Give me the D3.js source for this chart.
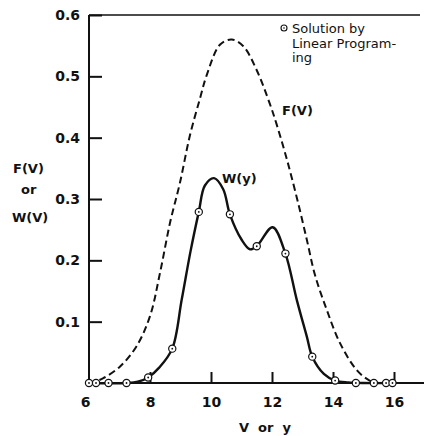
<!DOCTYPE html>
<html>
<head>
<meta charset="utf-8">
<script src="https://cdn.jsdelivr.net/npm/d3@7"></script>
<style>
  body { margin: 0; background: #fff; }
  text { font-family: "DejaVu Sans", sans-serif; fill: #111; }
</style>
</head>
<body>
<div id="container"></div>
<script>
/* CONSTANTS AND GLOBALS */
const width = 424, height = 436;

// F(V) dashed curve
const fV = [6.0, 6.13, 6.47, 7.02, 7.56, 8.0, 8.33, 8.66, 8.98, 9.31, 9.64, 9.86, 10.3, 10.68, 11.06, 11.5, 11.93, 12.15, 12.48, 12.81, 13.14, 13.41, 13.79, 14.23, 14.78, 15.2, 15.5];
const fVal = [0, 0.001, 0.008, 0.027, 0.06, 0.109, 0.18, 0.262, 0.326, 0.404, 0.464, 0.502, 0.552, 0.56, 0.549, 0.51, 0.455, 0.422, 0.366, 0.303, 0.234, 0.176, 0.12, 0.065, 0.021, 0.004, 0];

// W(y) solid curve
const wY = [6.0, 7.23, 7.6, 7.94, 8.3, 8.73, 9.04, 9.33, 9.6, 9.8, 10.1, 10.4, 10.62, 11.0, 11.28, 11.5, 12.02, 12.44, 12.81, 13.14, 13.32, 13.7, 14.07, 14.5, 15.0, 16.0];
const wVal = [0, 0, 0.002, 0.009, 0.025, 0.056, 0.136, 0.215, 0.279, 0.322, 0.334, 0.316, 0.275, 0.234, 0.218, 0.223, 0.254, 0.211, 0.136, 0.076, 0.043, 0.015, 0.004, 0.001, 0, 0];

// solution by linear programming (circled points)
const lpY = [6.0, 6.23, 6.64, 7.23, 7.94, 8.73, 9.6, 10.62, 11.5, 12.44, 13.32, 14.07, 14.75, 15.34, 15.74, 15.95];
const lpVal = [0, 0, 0, 0, 0.009, 0.056, 0.279, 0.275, 0.223, 0.211, 0.043, 0.004, 0, 0, 0, 0];

const xTicks = [6, 8, 10, 12, 14, 16];
const yTicks = [0.1, 0.2, 0.3, 0.4, 0.5, 0.6];

const svg = d3.select("#container")
  .append("svg")
  .attr("width", width)
  .attr("height", height);

// SCALES
const x = d3.scaleLinear().domain([6, 16]).range([89, 394]);
const y = d3.scaleLinear().domain([0, 0.6]).range([383, 15]);

// axes
const yAxis = d3.axisLeft(y)
  .tickValues(yTicks)
  .tickFormat(d3.format(".1f"))
  .tickSizeInner(-13)
  .tickSizeOuter(0)
  .tickPadding(9);

const gy = svg.append("g")
  .attr("transform", `translate(${x(6)},0)`)
  .call(yAxis);
gy.select(".domain").remove();
gy.selectAll("line").attr("stroke", "#111").attr("stroke-width", 2);
gy.selectAll("text").style("font-size", "14px").style("font-weight", "bold").attr("fill", "#111");

const xAxis = d3.axisBottom(x)
  .tickValues(xTicks)
  .tickFormat(d3.format("d"))
  .tickSizeInner(-11)
  .tickSizeOuter(0)
  .tickPadding(14);

const gx = svg.append("g")
  .attr("transform", `translate(0,${y(0)})`)
  .call(xAxis);
gx.select(".domain").remove();
gx.selectAll("line").attr("stroke", "#111").attr("stroke-width", 2)
  .filter(d => d === 6).remove();
gx.selectAll("text").style("font-size", "14px").style("font-weight", "bold").attr("fill", "#111")
  .filter(d => d === 6).attr("dx", -4);

// frame: left, bottom, top
svg.append("line")
  .attr("x1", x(6)).attr("x2", x(6))
  .attr("y1", y(0)).attr("y2", y(0.6))
  .attr("stroke", "#111").attr("stroke-width", 2);
svg.append("line")
  .attr("x1", x(6)).attr("x2", width)
  .attr("y1", y(0)).attr("y2", y(0))
  .attr("stroke", "#111").attr("stroke-width", 2);
svg.append("line")
  .attr("x1", x(6)).attr("x2", 420)
  .attr("y1", y(0.6)).attr("y2", y(0.6))
  .attr("stroke", "#111").attr("stroke-width", 1.5);

// curves
const line = d3.line()
  .x(d => x(d[0]))
  .y(d => Math.min(y(d[1]), y(0)))
  .curve(d3.curveCatmullRom.alpha(0.5));

svg.append("path")
  .datum(fV.map((v, i) => [v, fVal[i]]))
  .attr("d", line)
  .attr("fill", "none")
  .attr("stroke", "#111")
  .attr("stroke-width", 2)
  .attr("stroke-dasharray", "7,4");

svg.append("path")
  .datum(wY.map((v, i) => [v, wVal[i]]))
  .attr("d", line)
  .attr("fill", "none")
  .attr("stroke", "#111")
  .attr("stroke-width", 2.4);

// circled points
const pts = svg.append("g")
  .selectAll("g")
  .data(lpY.map((v, i) => [v, lpVal[i]]))
  .join("g")
  .attr("transform", d => `translate(${x(d[0])},${y(d[1])})`);
pts.append("circle").attr("r", 3.6).attr("fill", "#fff").attr("stroke", "#111").attr("stroke-width", 1.2);
pts.append("circle").attr("r", 0.9).attr("fill", "#111");

// labels
svg.append("text").attr("x", 222).attr("y", 183).style("font-size", "13px").style("font-weight", "bold").text("W(y)");
svg.append("text").attr("x", 282).attr("y", 115).style("font-size", "13px").style("font-weight", "bold").text("F(V)");

const ylab = svg.append("g").style("font-size", "13px").style("font-weight", "bold");
ylab.append("text").attr("x", 13).attr("y", 173).text("F(V)");
ylab.append("text").attr("x", 21).attr("y", 194).text("or");
ylab.append("text").attr("x", 12).attr("y", 222).text("W(V)");

svg.append("text")
  .attr("x", 265).attr("y", 432)
  .attr("text-anchor", "middle")
  .style("font-size", "13px").style("font-weight", "bold")
  .attr("xml:space", "preserve")
  .text("V  or  y");

// legend
const lg = svg.append("g").attr("transform", "translate(284,28)");
lg.append("circle").attr("r", 3).attr("fill", "#fff").attr("stroke", "#111").attr("stroke-width", 1.1);
lg.append("circle").attr("r", 0.8).attr("fill", "#111");
const lt = svg.append("g").style("font-size", "13px");
lt.append("text").attr("x", 292).attr("y", 33).text("Solution  by");
lt.append("text").attr("x", 292).attr("y", 48).text("Linear Program-");
lt.append("text").attr("x", 292).attr("y", 62).text("ing");
</script>
</body>
</html>
